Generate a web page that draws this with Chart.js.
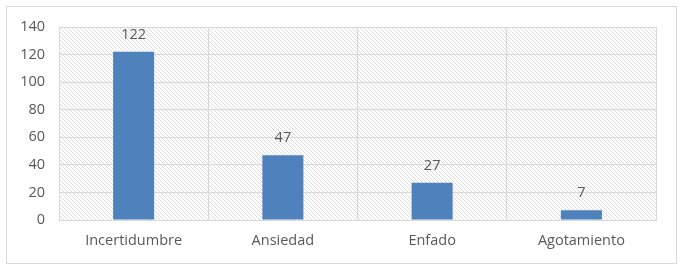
<!DOCTYPE html>
<html>
<head>
<meta charset="utf-8">
<script src="https://cdn.jsdelivr.net/npm/chart.js@4"></script>
<style>
  html, body { margin: 0; padding: 0; background: #fff; }
  #wrap { width: 683px; height: 270px; }
</style>
</head>
<body>
<div id="wrap"><canvas id="chart" width="683" height="270"></canvas></div>
<script>
// Chart data
const categories = ["Incertidumbre", "Ansiedad", "Enfado", "Agotamiento"]
const counts = [122, 47, 27, 7]
const yTicks = [0, 20, 40, 60, 80, 100, 120, 140]

const gridColor = "#d9d9d9"
const textColor = "#595959"
const fontFamily = "'Open Sans', Lato, sans-serif"

// diagonal hatch fill for the plot area
function makeHatch(ctx) {
  const c = document.createElement("canvas")
  c.width = 4
  c.height = 4
  const p = c.getContext("2d")
  p.fillStyle = "#dcdcdc"
  for (let i = 0; i < 4; i++) p.fillRect(i, i, 1, 1)
  return ctx.createPattern(c, "repeat")
}

const backgroundPlugin = {
  id: "background",
  beforeDraw(chart) {
    const { ctx, chartArea } = chart
    ctx.save()
    ctx.fillStyle = "#fff"
    ctx.fillRect(0, 0, chart.width, chart.height)
    ctx.strokeStyle = gridColor
    ctx.lineWidth = 1
    ctx.strokeRect(6.5, 6.5, 670, 257)
    ctx.fillStyle = makeHatch(ctx)
    ctx.fillRect(chartArea.left, chartArea.top, chartArea.right - chartArea.left, chartArea.bottom - chartArea.top)
    ctx.restore()
  },
}

const labelPlugin = {
  id: "valueLabels",
  afterDatasetsDraw(chart) {
    const { ctx } = chart
    const meta = chart.getDatasetMeta(0)
    ctx.save()
    ctx.font = "14.5px " + fontFamily
    ctx.fillStyle = textColor
    ctx.textAlign = "center"
    ctx.textBaseline = "bottom"
    meta.data.forEach((bar, i) => {
      ctx.fillText(String(counts[i]), bar.x, bar.y - 10)
    })
    ctx.restore()
  },
}

new Chart(document.getElementById("chart"), {
  type: "bar",
  data: {
    labels: categories,
    datasets: [
      {
        data: counts,
        backgroundColor: "#4f81bd",
        borderWidth: 0,
        categoryPercentage: 1,
        barPercentage: 0.275,
      },
    ],
  },
  options: {
    responsive: false,
    animation: false,
    layout: { padding: { left: 0, right: 27, top: 27, bottom: 0 } },
    plugins: {
      legend: { display: false },
      tooltip: { enabled: false },
    },
    scales: {
      x: {
        afterFit(scale) {
          scale.height = 50
        },
        grid: { color: gridColor, offset: true, drawTicks: false },
        border: { color: gridColor },
        ticks: { color: textColor, font: { family: fontFamily, size: 14.5 }, padding: 12 },
      },
      y: {
        min: 0,
        max: 140,
        afterFit(scale) {
          scale.width = 59
        },
        afterBuildTicks(scale) {
          scale.ticks = yTicks.map((v) => ({ value: v }))
        },
        grid: { color: gridColor, drawTicks: false },
        border: { display: false },
        ticks: { color: textColor, font: { family: fontFamily, size: 14.5 }, padding: 14 },
      },
    },
  },
  plugins: [backgroundPlugin, labelPlugin],
})
</script>
</body>
</html>
